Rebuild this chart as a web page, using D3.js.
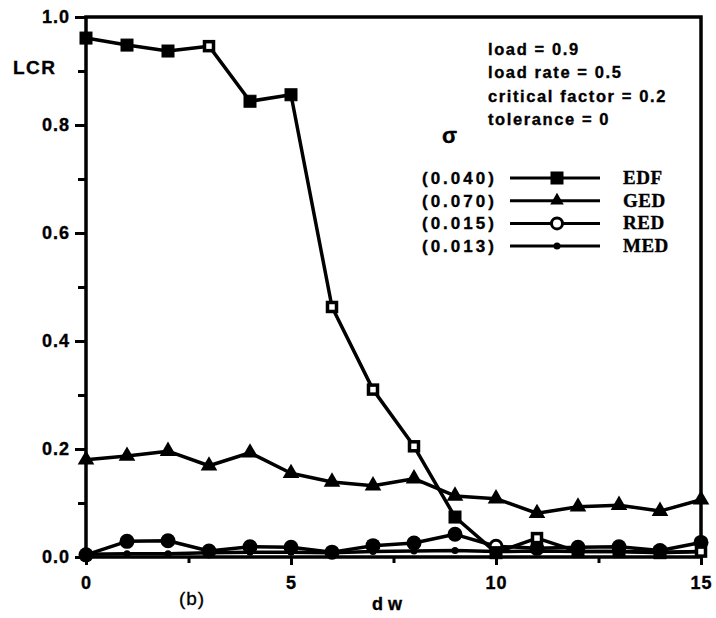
<!DOCTYPE html>
<html>
<head>
<meta charset="utf-8">
<script src="https://cdn.jsdelivr.net/npm/d3@7"></script>
<style>
  body { margin: 0; background: #fff; }
  svg { display: block; }
  text { fill: #000; stroke: #000; stroke-width: 0.35px; }
</style>
</head>
<body>
<svg id="chart" width="716" height="618"></svg>
<script>
  var dw = [0,1,2,3,4,5,6,7,8,9,10,11,12,13,14,15];
  var edf = [0.961,0.948,0.937,0.946,0.844,0.856,0.463,0.310,0.205,0.074,0.008,0.035,0.010,0.010,0.008,0.010];
  var ged = [0.180,0.187,0.196,0.169,0.193,0.155,0.139,0.132,0.145,0.113,0.108,0.081,0.093,0.096,0.085,0.106];
  var red = [0.004,0.029,0.030,0.011,0.019,0.018,0.009,0.021,0.026,0.042,0.020,0.016,0.018,0.019,0.012,0.027];
  var med = [0.005,0.006,0.006,0.008,0.009,0.009,0.008,0.010,0.011,0.012,0.010,0.011,0.010,0.010,0.009,0.010];
  var seriesNames = ["EDF","GED","RED","MED"];
  var sigmas = ["(0.040)","(0.070)","(0.015)","(0.013)"];
  var params = ["load = 0.9","load rate = 0.5","critical factor = 0.2","tolerance = 0"];
  var yMajor = [0,0.2,0.4,0.6,0.8,1.0];
  var yMinor = [0.1,0.3,0.5,0.7,0.9];
  var xMajor = [0,5,10,15];
  var xMinor = [2.5,7.5,12.5];

  var svg = d3.select("#chart");
  var x = d3.scaleLinear().domain([0,15]).range([86,701]);
  var y = d3.scaleLinear().domain([0,1]).range([557,17]);

  var sans = "'Liberation Sans', Arial, sans-serif";
  var serif = "'Liberation Serif', 'Times New Roman', serif";

  // axes
  var yAxis = d3.axisLeft(y).tickValues(yMajor).tickSize(11).tickPadding(5)
    .tickFormat(d3.format(".1f"));
  svg.append("g").attr("transform","translate(" + x(0) + ",0)").call(yAxis);
  svg.append("g").attr("transform","translate(" + x(0) + ",0)")
    .call(d3.axisLeft(y).tickValues(yMinor).tickSize(8).tickFormat(""));
  var xAxis = d3.axisBottom(x).tickValues(xMajor).tickSize(8).tickPadding(11);
  svg.append("g").attr("transform","translate(0," + y(0) + ")").call(xAxis);
  svg.append("g").attr("transform","translate(0," + y(0) + ")")
    .call(d3.axisBottom(x).tickValues(xMinor).tickSize(6).tickFormat(""));

  svg.selectAll(".domain").remove();
  svg.selectAll(".tick line").attr("stroke","#000").attr("stroke-width",3);
  svg.selectAll(".tick text").attr("font-family",sans).attr("font-weight","bold")
    .attr("font-size",18).attr("letter-spacing",1).attr("fill","#000");

  // frame
  svg.append("rect").attr("x",x(0)).attr("y",y(1)).attr("width",x(15)-x(0)).attr("height",y(0)-y(1))
    .attr("fill","none").attr("stroke","#000").attr("stroke-width",3.5);

  // lines
  var line = d3.line().x(function(d,i){ return x(dw[i]); }).y(function(d){ return y(d); });
  var all = [edf, ged, red, med];
  svg.selectAll("path.series").data(all).enter().append("path")
    .attr("class","series").attr("d",line)
    .attr("fill","none").attr("stroke","#000").attr("stroke-width",3.5).attr("stroke-linejoin","round");

  var hollowEdf = [3,6,7,8,11,15];
  function square(g, cx, cy, open) {
    var s = open ? 9 : 12;
    g.append("rect").attr("x",cx-s/2).attr("y",cy-s/2).attr("width",s).attr("height",s)
      .attr("fill",open ? "#fff" : "#000").attr("stroke","#000").attr("stroke-width",open ? 3.5 : 1);
  }
  function triangle(g, cx, cy, s) {
    g.append("path").attr("d",d3.symbol().type(d3.symbolTriangle).size(s)())
      .attr("transform","translate(" + cx + "," + cy + ")").attr("fill","#000");
  }
  var marks = svg.append("g");
  med.forEach(function(v,i){
    marks.append("circle").attr("cx",x(dw[i])).attr("cy",y(v)).attr("r",3.5).attr("fill","#000");
  });
  red.forEach(function(v,i){
    var open = i === 10;
    marks.append("circle").attr("cx",x(dw[i])).attr("cy",y(v)).attr("r",open ? 6 : 7.5)
      .attr("fill",open ? "#fff" : "#000").attr("stroke","#000").attr("stroke-width",open ? 3 : 0);
  });
  ged.forEach(function(v,i){ triangle(marks, x(dw[i]), y(v), 120); });
  edf.forEach(function(v,i){ square(marks, x(dw[i]), y(v), hollowEdf.indexOf(i) >= 0); });

  // labels
  svg.append("text").attr("x",13).attr("y",74).text("LCR")
    .attr("font-family",sans).attr("font-weight","bold").attr("font-size",19).attr("letter-spacing",1.5);
  svg.append("text").attr("x",192).attr("y",605).attr("text-anchor","middle").text("(b)")
    .attr("font-family",sans).attr("font-size",19).attr("letter-spacing",1);
  svg.append("text").attr("x",387).attr("y",610).attr("text-anchor","middle").text("d w")
    .attr("font-family",sans).attr("font-weight","bold").attr("font-size",18);

  // legend
  var leg = svg.append("g");
  params.forEach(function(p,i){
    leg.append("text").attr("x",488).attr("y",55 + i*23.4).text(p)
      .attr("font-family",sans).attr("font-weight","bold").attr("font-size",16.5).attr("letter-spacing",1.6);
  });
  leg.append("text").attr("x",442).attr("y",143).text("σ")
    .attr("font-family",sans).attr("font-weight","bold").attr("font-size",22);

  seriesNames.forEach(function(name,i){
    var ly = 178 + i*22.7;
    leg.append("text").attr("x",422).attr("y",ly+6).text(sigmas[i])
      .attr("font-family",sans).attr("font-weight","bold").attr("font-size",17).attr("letter-spacing",3);
    leg.append("line").attr("x1",510).attr("x2",600).attr("y1",ly).attr("y2",ly)
      .attr("stroke","#000").attr("stroke-width",3);
    if (i === 0) square(leg, 557, ly, false);
    if (i === 1) triangle(leg, 557, ly, 80);
    if (i === 2) leg.append("circle").attr("cx",557).attr("cy",ly).attr("r",5.5)
      .attr("fill","#fff").attr("stroke","#000").attr("stroke-width",3);
    if (i === 3) leg.append("circle").attr("cx",557).attr("cy",ly).attr("r",3.5).attr("fill","#000");
    leg.append("text").attr("x",623).attr("y",ly+6).text(name)
      .attr("font-family",serif).attr("font-weight","bold").attr("font-size",19).attr("letter-spacing",0.5);
  });
</script>
</body>
</html>
